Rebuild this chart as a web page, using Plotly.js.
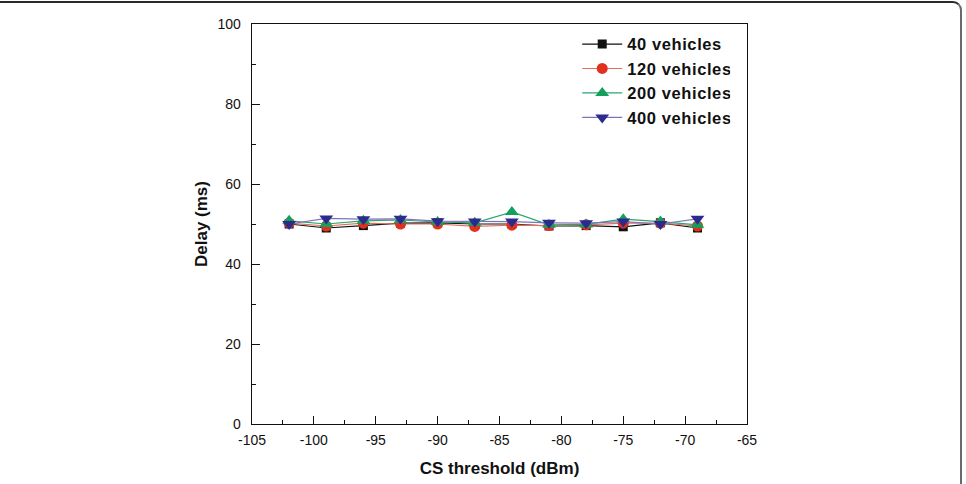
<!DOCTYPE html>
<html>
<head>
<meta charset="utf-8">
<script src="https://cdn.plot.ly/plotly-3.0.1.min.js"></script>
<style>
  html, body { margin: 0; padding: 0; background: #fff; }
  #wrap { position: relative; width: 966px; height: 484px; overflow: hidden; }
  #chart { position: absolute; left: 0; top: 0; width: 966px; height: 484px; }
  #frame {
    position: absolute; left: -10px; top: 1px; width: 970px; height: 520px;
    border-top: 2px solid #2a2a2a; border-right: 2px solid #6a6a6a;
    border-top-right-radius: 9px; pointer-events: none;
  }
  #chart .legendtext { letter-spacing: 0.6px; }
</style>
</head>
<body>
<div id="wrap">
  <div id="chart"></div>
  <div id="frame"></div>
</div>
<script>
// CS threshold sweep (dBm) and measured delay (ms) per traffic density
const csThreshold = [-102, -99, -96, -93, -90, -87, -84, -81, -78, -75, -72, -69];
const delay40  = [50.0, 49.0, 49.6, 50.2, 50.3, 50.0, 50.0, 49.5, 49.6, 49.3, 50.3, 49.0];
const delay120 = [50.2, 49.5, 50.2, 50.0, 50.0, 49.4, 49.7, 49.6, 49.8, 50.2, 50.2, 49.5];
const delay200 = [50.8, 50.0, 50.8, 51.0, 50.5, 50.3, 53.0, 49.8, 49.9, 51.2, 50.6, 49.8];
const delay400 = [50.0, 51.4, 51.2, 51.3, 50.7, 50.6, 50.6, 50.3, 50.2, 50.6, 50.0, 51.3];
const seriesNames = ['40 vehicles', '120 vehicles', '200 vehicles', '400 vehicles'];
const xTicks = [-105, -100, -95, -90, -85, -80, -75, -70, -65];
const yTicks = [0, 20, 40, 60, 80, 100];

const styles = [
  { line: '#111111', marker: '#111111', symbol: 'square', size: 9 },
  { line: '#e2705f', marker: '#e0301e', symbol: 'circle', size: 11 },
  { line: '#2aa672', marker: '#12a05c', symbol: 'triangle-up', size: 12 },
  { line: '#7d74b8', marker: '#2d2a8e', symbol: 'triangle-down', size: 12 }
];
const values = [delay40, delay120, delay200, delay400];

const traces = values.map((v, i) => ({
  x: csThreshold,
  y: v,
  name: seriesNames[i],
  type: 'scatter',
  mode: 'lines+markers',
  line: { color: styles[i].line, width: 1.2 },
  marker: { color: styles[i].marker, symbol: styles[i].symbol, size: styles[i].size,
            line: { width: 0 } }
}));

const font = { family: 'Liberation Sans, Arial, sans-serif', color: '#111' };

const layout = {
  width: 966, height: 484,
  margin: { l: 252, r: 219, t: 24, b: 60 },
  paper_bgcolor: '#fff', plot_bgcolor: '#fff',
  showlegend: true,
  legend: {
    x: 0.657, y: 0.993, xanchor: 'left', yanchor: 'top',
    bgcolor: 'rgba(0,0,0,0)', borderwidth: 0,
    font: { family: font.family, size: 16.5, color: '#111', weight: 'bold' },
    tracegroupgap: 0, itemwidth: 40
  },
  xaxis: {
    range: [-105, -65], tickvals: xTicks, ticktext: xTicks.map(String),
    ticks: 'inside', ticklen: 8, tickwidth: 1, tickcolor: '#111',
    minor: { dtick: 2.5, tick0: -105, ticks: 'inside', ticklen: 4, tickwidth: 1, tickcolor: '#111' },
    showline: true, linecolor: '#111', linewidth: 1.3, mirror: true,
    showgrid: false, zeroline: false, ticklabelstandoff: 3,
    tickfont: { family: font.family, size: 14, color: '#111' },
    title: { text: 'CS threshold (dBm)', standoff: 15,
             font: { family: font.family, size: 17, color: '#111', weight: 'bold' } }
  },
  yaxis: {
    range: [0, 100], tickvals: yTicks, ticktext: yTicks.map(String),
    ticks: 'inside', ticklen: 8, tickwidth: 1, tickcolor: '#111',
    minor: { dtick: 10, tick0: 0, ticks: 'inside', ticklen: 4, tickwidth: 1, tickcolor: '#111' },
    showline: true, linecolor: '#111', linewidth: 1.3, mirror: true,
    showgrid: false, zeroline: false, ticklabelstandoff: 7,
    tickfont: { family: font.family, size: 14, color: '#111' },
    title: { text: 'Delay (ms)', standoff: 5,
             font: { family: font.family, size: 17, color: '#111', weight: 'bold' } }
  }
};

Plotly.newPlot('chart', traces, layout, { displayModeBar: false, staticPlot: true });
</script>
</body>
</html>
